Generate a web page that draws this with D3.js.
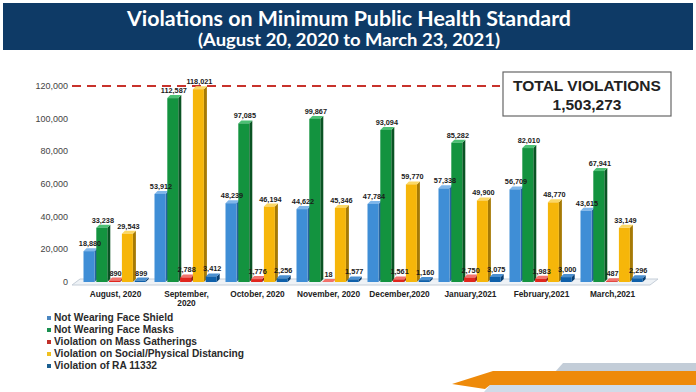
<!DOCTYPE html>
<html><head><meta charset="utf-8">
<script src="https://cdn.jsdelivr.net/npm/d3@7"></script>
<style>body{margin:0;background:#fff}svg{display:block}</style>
</head><body>
<script>
const categories = ["August, 2020","September,\n2020","October, 2020","November, 2020","December,2020","January,2021","February,2021","March,2021"];
const seriesNames = ["Not Wearing Face Shield","Not Wearing Face Masks","Violation on Mass Gatherings","Violation on Social/Physical Distancing","Violation of RA 11332"];
const faceShield = [18880,53912,48239,44622,47784,57338,56709,43615];
const faceMasks = [33238,112587,97085,99867,93094,85282,82010,67941];
const massGatherings = [890,2788,1776,18,1561,2750,1983,487];
const distancing = [29543,118021,46194,45346,59770,49900,48770,33149];
const ra11332 = [899,3412,2256,1577,1160,3075,3000,2296];
const yTicks = [0,20000,40000,60000,80000,100000,120000];
const totalLabel = ["TOTAL VIOLATIONS","1,503,273"];
const title = "Violations on Minimum Public Health Standard";
const subtitle = "(August 20, 2020 to March 23, 2021)";

const series = [faceShield, faceMasks, massGatherings, distancing, ra11332];
const front = ["#3f8ed6","#13933f","#e0261d","#f6b60a","#0f60aa"];
const side  = ["#26639e","#0a5424","#8c1410","#a67a05","#073e72"];
const topc  = ["#7fb6ea","#4cc074","#f2736c","#fbd866","#4a8fd0"];
const legendColors = ["#4a86c0","#1a9050","#c0302a","#f0c020","#1a5f90"];

const W=696,H=392;
const svg=d3.select("body").append("svg").attr("width",W).attr("height",H);

// header
svg.append("rect").attr("x",3).attr("y",3).attr("width",690).attr("height",47).attr("fill","#0e3a66");
svg.append("text").attr("x",349).attr("y",26).attr("text-anchor","middle").attr("fill","#fff")
  .attr("font-family","Lato, 'Open Sans', sans-serif").attr("font-weight","bold").attr("font-size",21)
  .attr("textLength",444).attr("lengthAdjust","spacingAndGlyphs").text(title);
svg.append("text").attr("x",349).attr("y",46).attr("text-anchor","middle").attr("fill","#fff")
  .attr("font-family","Lato, 'Open Sans', sans-serif").attr("font-weight","bold").attr("font-size",16.5)
  .attr("textLength",302).attr("lengthAdjust","spacingAndGlyphs").text(subtitle);

const y=d3.scaleLinear().domain([0,120000]).range([282,86]);
const x=d3.scaleBand().domain(categories).range([80,648]).padding(0);
const gw=64;
const xi=d3.scaleBand().domain(d3.range(5)).range([0,gw]).padding(0);

// y labels
svg.append("g").selectAll("text").data(yTicks).join("text")
  .attr("x",68).attr("y",d=>y(d)+3).attr("text-anchor","end")
  .attr("font-family","Arial, 'Liberation Sans', sans-serif").attr("font-size",9).attr("fill","#444")
  .text(d=>d3.format(",")(d));

// floor
svg.append("polygon").attr("points",[[72,285],[650,285],[658,279],[80,279]].map(p=>p.join(",")).join(" "))
  .attr("fill","#eef2f6").attr("stroke","#c5ced8").attr("stroke-width",1);

// dashed line
svg.append("line").attr("x1",72).attr("x2",500).attr("y1",y(120000)).attr("y2",y(120000))
  .attr("stroke","#c8322b").attr("stroke-width",2).attr("stroke-dasharray","9,6");

// bars
const dx=3, dy=3, fw=11;
const g=svg.append("g");
categories.forEach((c,ci)=>{
  const gx=x(c)+x.bandwidth()/2-gw/2;
  series.forEach((s,si)=>{
    const v=s[ci];
    const x0=gx+xi(si), y0=y(v), y1=y(0);
    g.append("polygon").attr("points",[[x0+fw,y0],[x0+fw+dx,y0-dy],[x0+fw+dx,y1-dy],[x0+fw,y1]].map(p=>p.join(",")).join(" "))
      .attr("fill",side[si]);
    g.append("polygon").attr("points",[[x0,y0],[x0+dx,y0-dy],[x0+fw+dx,y0-dy],[x0+fw,y0]].map(p=>p.join(",")).join(" "))
      .attr("fill",topc[si]);
    g.append("rect").attr("x",x0).attr("y",y0).attr("width",fw).attr("height",Math.max(0,y1-y0)).attr("fill",front[si]);
  });
});
// value labels
categories.forEach((c,ci)=>{
  const gx=x(c)+x.bandwidth()/2-gw/2;
  series.forEach((s,si)=>{
    const v=s[ci];
    g.append("text").attr("x",gx+xi(si)+fw/2+1).attr("y",y(v)-5).attr("text-anchor","middle")
      .attr("font-family","'Liberation Sans Narrow', Arial, sans-serif").attr("font-weight","bold").attr("font-size",7.3)
      .attr("fill","#1a1a1a").text(d3.format(",")(v));
  });
});

// x labels
svg.append("g").selectAll("text").data(categories).join("text")
  .attr("x",d=>x(d)+x.bandwidth()/2).attr("y",297).attr("text-anchor","middle")
  .attr("font-family","Arial, 'Liberation Sans', sans-serif").attr("font-weight","bold").attr("font-size",8.3).attr("fill","#222")
  .each(function(d){
    const parts=d.split("\n");
    d3.select(this).selectAll("tspan").data(parts).join("tspan")
      .attr("x",x(d)+x.bandwidth()/2).attr("dy",(p,i)=>i?9:0).text(p=>p);
  });

// total box
svg.append("rect").attr("x",503).attr("y",72).attr("width",168).attr("height",44).attr("fill","#fff").attr("stroke","#666").attr("stroke-width",1.2);
svg.append("g").selectAll("text").data(totalLabel).join("text")
  .attr("x",587).attr("y",(d,i)=>91+i*19).attr("text-anchor","middle")
  .attr("font-family","Arial, 'Liberation Sans', sans-serif").attr("font-weight","bold").attr("font-size",15.5).attr("fill","#222")
  .text(d=>d);

// legend
const lg=svg.append("g");
seriesNames.forEach((n,i)=>{
  const yy=320+i*12;
  lg.append("rect").attr("x",47).attr("y",yy-4).attr("width",4).attr("height",4).attr("fill",legendColors[i]);
  lg.append("text").attr("x",54).attr("y",yy+1).attr("font-family","Arial, 'Liberation Sans', sans-serif")
    .attr("font-weight","bold").attr("font-size",10.2).attr("fill","#2a2a2a").text(n);
});

// decoration bottom right
svg.append("polygon").attr("points","563,363 696,363 696,372 555,372").attr("fill","#c3cdd8");
svg.append("polygon").attr("points","490,385 696,385 696,392 484,392").attr("fill","#cfdbe8");
svg.append("polygon").attr("points","493,371 696,371 696,385 490,385 485,389 452,384").attr("fill","#ee8a0a");
</script>
</body></html>
